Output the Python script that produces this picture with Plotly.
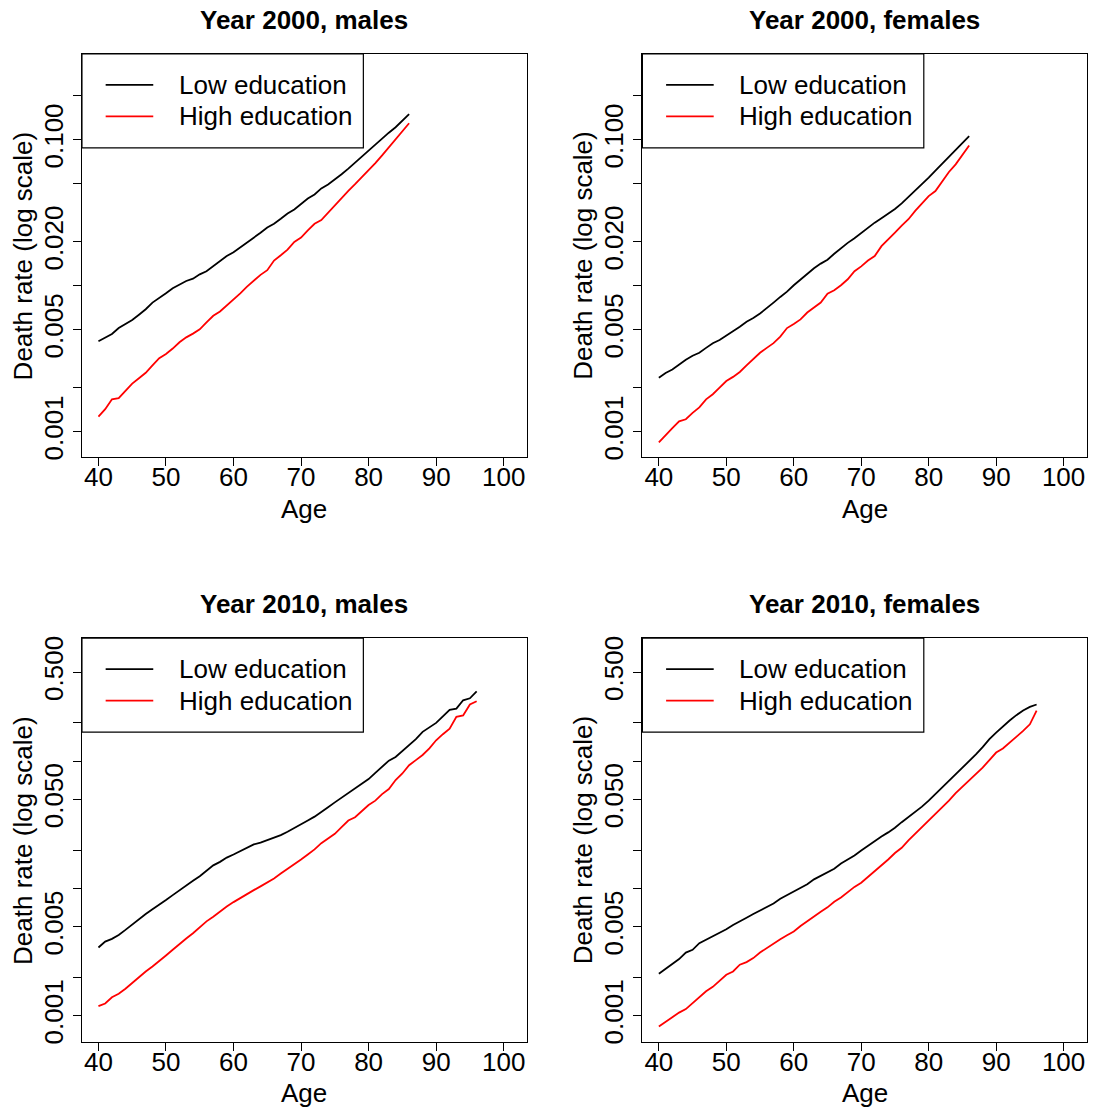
import plotly.graph_objects as go

W, H = 1094, 1111
FONT = "Liberation Sans, Arial, Helvetica, sans-serif"
FS = 26

# Ages covered by each year's life table
ages_2000 = list(range(40, 87))
ages_2010 = list(range(40, 97))

# Death rates by age, year 2000
m2000_low = [0.00417, 0.00440, 0.00468, 0.00514, 0.00548, 0.00583, 0.00634, 0.00692, 0.00768, 0.00823,
             0.00889, 0.00962, 0.0102, 0.0108, 0.0112, 0.0120, 0.0126, 0.0136, 0.0148, 0.0160,
             0.0170, 0.0183, 0.0197, 0.0212, 0.0231, 0.0251, 0.0266, 0.0288, 0.0313, 0.0334,
             0.0367, 0.0397, 0.0423, 0.0465, 0.0495, 0.0535, 0.0581, 0.0635, 0.0698, 0.0770,
             0.0846, 0.0930, 0.103, 0.112, 0.122, 0.135, 0.150]
m2000_high = [0.00127, 0.00143, 0.00167, 0.00170, 0.00191, 0.00214, 0.00233, 0.00254, 0.00285, 0.00320,
              0.00342, 0.00372, 0.00411, 0.00444, 0.00471, 0.00504, 0.00562, 0.00624, 0.00668, 0.00733,
              0.00801, 0.00889, 0.00987, 0.0108, 0.0119, 0.0128, 0.0149, 0.0162, 0.0177, 0.0200,
              0.0214, 0.0240, 0.0266, 0.0282, 0.0318, 0.0358, 0.0399, 0.0448, 0.0497, 0.0555,
              0.0612, 0.0694, 0.0783, 0.0887, 0.102, 0.115, 0.130]
f2000_low = [0.00235, 0.00253, 0.00267, 0.00290, 0.00312, 0.00332, 0.00348, 0.00376, 0.00405, 0.00426,
             0.00456, 0.00488, 0.00525, 0.00568, 0.00602, 0.00647, 0.00700, 0.00768, 0.00840, 0.00913,
             0.0101, 0.0111, 0.0121, 0.0132, 0.0142, 0.0151, 0.0166, 0.0182, 0.0197, 0.0212,
             0.0231, 0.0251, 0.0271, 0.0291, 0.0313, 0.0336, 0.0367, 0.0406, 0.0446, 0.0495,
             0.0552, 0.0616, 0.0687, 0.0770, 0.0860, 0.0954, 0.106]
f2000_high = [0.000846, 0.000954, 0.00106, 0.00118, 0.00122, 0.00135, 0.00147, 0.00167, 0.00181, 0.00201,
              0.00223, 0.00238, 0.00257, 0.00285, 0.00317, 0.00348, 0.00376, 0.00405, 0.00449, 0.00514,
              0.00548, 0.00589, 0.00657, 0.00711, 0.00768, 0.00885, 0.00932, 0.0101, 0.0111, 0.0126,
              0.0136, 0.0149, 0.0160, 0.0187, 0.0207, 0.0232, 0.0259, 0.0286, 0.0326, 0.0367,
              0.0412, 0.0446, 0.0521, 0.0603, 0.0680, 0.0783, 0.0915]

# Death rates by age, year 2010
m2010_low = [0.00344, 0.00383, 0.00402, 0.00432, 0.00473, 0.00523, 0.00573, 0.00630, 0.00686, 0.00741,
             0.00811, 0.00887, 0.00971, 0.0106, 0.0115, 0.0125, 0.0137, 0.0152, 0.0162, 0.0175,
             0.0185, 0.0197, 0.0209, 0.0222, 0.0229, 0.0239, 0.0250, 0.0263, 0.0279, 0.0300,
             0.0318, 0.0342, 0.0367, 0.0397, 0.0435, 0.0475, 0.0517, 0.0559, 0.0615, 0.0661,
             0.0724, 0.0811, 0.0903, 0.101, 0.108, 0.120, 0.132, 0.149, 0.170, 0.185,
             0.200, 0.225, 0.253, 0.259, 0.301, 0.312, 0.354]
m2010_high = [0.00119, 0.00125, 0.00140, 0.00149, 0.00163, 0.00181, 0.00202, 0.00223, 0.00244, 0.00272,
              0.00298, 0.00330, 0.00367, 0.00405, 0.00445, 0.00499, 0.00552, 0.00601, 0.00661, 0.00723,
              0.00782, 0.00841, 0.00914, 0.00971, 0.0104, 0.0111, 0.0120, 0.0131, 0.0142, 0.0155,
              0.0169, 0.0185, 0.0203, 0.0227, 0.0249, 0.0269, 0.0303, 0.0342, 0.0363, 0.0405,
              0.0453, 0.0490, 0.0552, 0.0604, 0.0711, 0.0801, 0.0931, 0.102, 0.112, 0.126,
              0.146, 0.163, 0.180, 0.223, 0.229, 0.279, 0.296]
f2010_low = [0.00214, 0.00233, 0.00252, 0.00279, 0.00314, 0.00330, 0.00372, 0.00395, 0.00424, 0.00445,
             0.00478, 0.00517, 0.00556, 0.00590, 0.00630, 0.00669, 0.00711, 0.00763, 0.00831, 0.00887,
             0.00959, 0.0102, 0.0108, 0.0118, 0.0126, 0.0133, 0.0143, 0.0157, 0.0169, 0.0182,
             0.0199, 0.0217, 0.0236, 0.0256, 0.0276, 0.0300, 0.0332, 0.0363, 0.0402, 0.0440,
             0.0490, 0.0552, 0.0623, 0.0702, 0.0782, 0.0876, 0.0994, 0.113, 0.129, 0.149,
             0.168, 0.189, 0.209, 0.230, 0.250, 0.267, 0.279]
f2010_high = [0.000825, 0.000898, 0.000965, 0.00106, 0.00113, 0.00126, 0.00142, 0.00156, 0.00169, 0.00190,
              0.00210, 0.00223, 0.00252, 0.00264, 0.00284, 0.00314, 0.00340, 0.00372, 0.00400, 0.00429,
              0.00459, 0.00508, 0.00556, 0.00601, 0.00657, 0.00711, 0.00787, 0.00851, 0.00942, 0.0103,
              0.0111, 0.0123, 0.0137, 0.0152, 0.0169, 0.0190, 0.0209, 0.0239, 0.0269, 0.0307,
              0.0342, 0.0390, 0.0435, 0.0490, 0.0562, 0.0630, 0.0702, 0.0791, 0.0892, 0.102,
              0.117, 0.126, 0.140, 0.155, 0.173, 0.195, 0.250]

# Axis ticks
x_ticks = [40, 50, 60, 70, 80, 90, 100]
y_ticks_2000 = [0.001, 0.002, 0.005, 0.01, 0.02, 0.05, 0.1, 0.2]
y_text_2000 = ["0.001", "", "0.005", "", "0.020", "", "0.100", ""]
y_ticks_2010 = [0.001, 0.002, 0.005, 0.01, 0.02, 0.05, 0.1, 0.2, 0.5]
y_text_2010 = ["0.001", "", "0.005", "", "", "0.050", "", "", "0.500"]

series_names = ["Low education", "High education"]
series_colors = ["#000000", "#ff0000"]

panels = [
    ("Year 2000, males", ages_2000, m2000_low, m2000_high, 0, 0),
    ("Year 2000, females", ages_2000, f2000_low, f2000_high, 1, 0),
    ("Year 2010, males", ages_2010, m2010_low, m2010_high, 0, 1),
    ("Year 2010, females", ages_2010, f2010_low, f2010_high, 1, 1),
]

# Plot-region edges in pixels (columns, rows)
col_left = [81.96, 642.4]
col_right = [526.9, 1086.8]
row_top = [52.3, 639.7]
row_bottom = [457.3, 1045.3]
y_ranges = [[-3.171, -0.412], [-3.203, -0.034]]


def px(x):
    return x / W


def py(y):
    return 1 - y / H


fig = go.Figure()
shapes = []
annotations = []

for i, (title, ages, low, high, c, r) in enumerate(panels):
    n = "" if i == 0 else str(i + 1)
    xa, ya = "x" + n, "y" + n
    for name, vals, color in zip(series_names, [low, high], series_colors):
        fig.add_trace(go.Scatter(x=ages, y=vals, mode="lines", name=name,
                                 line=dict(color=color, width=1.8),
                                 xaxis=xa, yaxis=ya, showlegend=False))

    L, R, T, B = col_left[c], col_right[c], row_top[r], row_bottom[r]
    axis_common = dict(showgrid=False, zeroline=False, showline=True, mirror=True,
                       linecolor="black", linewidth=1, ticks="outside", ticklen=8,
                       tickwidth=1, tickcolor="black",
                       tickfont=dict(family=FONT, size=FS, color="black"))
    fig.update_layout(**{
        "xaxis" + n: dict(domain=[px(L), px(R)], range=[37.56, 103.44],
                          tickvals=x_ticks, anchor=ya, ticklabelstandoff=-11,
                          **axis_common),
        "yaxis" + n: dict(domain=[py(B), py(T)], type="log", range=y_ranges[r],
                          tickvals=y_ticks_2000 if r == 0 else y_ticks_2010,
                          ticktext=y_text_2000 if r == 0 else y_text_2010,
                          tickangle=-90, anchor=xa, **axis_common),
    })

    # Panel title and axis titles
    annotations.append(dict(text="<b>" + title + "</b>", x=px((L + R) / 2), y=py(T - 34),
                            xref="paper", yref="paper", showarrow=False,
                            xanchor="center", yanchor="middle",
                            font=dict(family=FONT, size=FS, color="black")))
    annotations.append(dict(text="Age", x=px((L + R) / 2), y=py(B + 52),
                            xref="paper", yref="paper", showarrow=False,
                            xanchor="center", yanchor="middle",
                            font=dict(family=FONT, size=FS, color="black")))
    annotations.append(dict(text="Death rate (log scale)", x=px(L - 59), y=py((T + B) / 2),
                            xref="paper", yref="paper", showarrow=False, textangle=-90,
                            xanchor="center", yanchor="middle",
                            font=dict(family=FONT, size=FS, color="black")))

    # Legend box in the top-left corner of the panel
    shapes.append(dict(type="rect", xref="paper", yref="paper",
                       x0=px(L), x1=px(L + 281.4), y0=py(T + 94.4), y1=py(T),
                       line=dict(color="black", width=1.2), fillcolor="white", layer="above"))
    for k, (name, color) in enumerate(zip(series_names, series_colors)):
        yy = T + 31 + k * 31.7
        shapes.append(dict(type="line", xref="paper", yref="paper",
                           x0=px(L + 23.7), x1=px(L + 71.3), y0=py(yy), y1=py(yy),
                           line=dict(color=color, width=1.8), layer="above"))
        annotations.append(dict(text=name, x=px(L + 94.7), y=py(yy),
                                xref="paper", yref="paper", showarrow=False,
                                xanchor="left", yanchor="middle",
                                font=dict(family=FONT, size=FS, color="black")))

fig.update_layout(width=W, height=H, margin=dict(l=0, r=0, t=0, b=0),
                  paper_bgcolor="white", plot_bgcolor="white",
                  showlegend=False, shapes=shapes, annotations=annotations)

fig.write_html("out.html")
